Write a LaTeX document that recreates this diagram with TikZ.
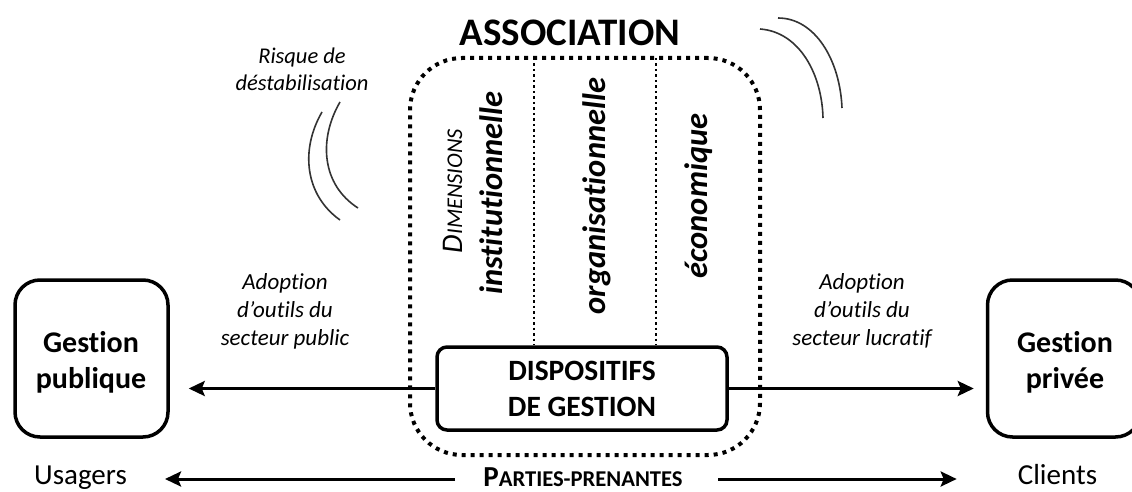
\documentclass[tikz,border=0pt]{standalone}
\usepackage{fontspec}
\setmainfont{Carlito}[Ligatures={NoCommon,NoRare,NoContextual}]
\usetikzlibrary{arrows.meta}
\begin{document}
\begin{tikzpicture}[x=1pt,y=-1pt,
  solidbox/.style={draw=black,line width=3.5pt,rounded corners=#1,inner sep=0pt},
  dotbox/.style={draw=black,line width=4pt,dash pattern=on 4pt off 5pt,rounded corners=52pt,inner sep=0pt,minimum width=350pt,minimum height=397pt},
  divider/.style={draw=black,line width=2.5pt,dash pattern=on 2.5pt off 3pt},
  arr/.style={draw=black,line width=3pt,-{Stealth[length=16pt,width=15pt,inset=3pt]}},
  wave/.style={draw=black!80,line width=1.6pt},
  lbl/.style={align=center,font=\fontsize{23}{28}\selectfont\itshape,inner sep=0pt},
  big/.style={font=\fontsize{30}{36}\selectfont\bfseries,align=center,inner sep=0pt},
  dim/.style={rotate=90,anchor=base,inner sep=0pt,font=\fontsize{32.5}{38}\selectfont\bfseries\itshape},
  plain/.style={anchor=base,inner sep=0pt,font=\fontsize{29}{34}\selectfont}
]
\useasboundingbox (0,0) rectangle (1132,492);

% title
\node[inner sep=0pt,font=\fontsize{39}{46}\selectfont\bfseries] (title) at (570,32.5) {ASSOCIATION};

% dotted association box
\node[dotbox] (assoc) at (585,256.5) {};

% dispositifs box
\node[solidbox=10pt,minimum width=290pt,minimum height=83pt,
      font=\fontsize{29.5}{36}\selectfont\bfseries,align=center] (disp) at (582,388.5) {DISPOSITIFS\\DE GESTION};

% dividers
\coordinate (d1) at (534,58);
\coordinate (d2) at (656,58);
\draw[divider] (d1) -- (d1 |- disp.north);
\draw[divider] (d2) -- (d2 |- disp.north);

% dimension texts
\node[rotate=90,anchor=base,inner sep=0pt,font=\fontsize{30}{36}\selectfont\itshape] (dimw) at (462,191)
  {D{\fontsize{22.5}{27}\selectfont IMENSIONS}};
\node[dim] (inst) at (502,193) {institutionnelle};
\node[dim] (orga) at (605,196) {organisationnelle};
\node[dim] (eco) at (707,196) {économique};

% side boxes
\node[solidbox=25pt,minimum width=153pt,minimum height=157pt] (pub) at (91.5,358.5) {};
\node[big] (pubt) at (91,362) {Gestion\\publique};
\node[solidbox=25pt,minimum width=153pt,minimum height=157pt] (priv) at (1064,358.5) {};
\node[big] (privt) at (1065,362) {Gestion\\privée};

% main arrows
\draw[arr,shorten >=19pt] (disp.west) -- (disp.west -| pub.east);
\draw[arr,shorten >=12pt] (disp.east) -- (disp.east -| priv.west);

% labels
\node[lbl] (adl) at (285,311) {Adoption\\d’outils du\\secteur public};
\node[lbl] (adr) at (862,311) {Adoption\\d’outils du\\secteur lucratif};
\node[lbl,font=\fontsize{22.5}{27}\selectfont\itshape] (risk) at (302,69) {Risque de\\déstabilisation};

% waves
\draw[wave] (322,112) .. controls (300,150) and (305,195) .. (340,220);
\draw[wave] (340,102) .. controls (318,140) and (322,185) .. (358,208);
\draw[wave] (760,29) .. controls (800,32) and (822,75) .. (823,118);
\draw[wave] (778,18) .. controls (815,18) and (840,60) .. (842,108);

% bottom row
\node[plain] (usag) at (80.5,484.5) {Usagers};
\node[plain] (cli) at (1057.5,484.5) {Clients};
\node[plain,font=\fontsize{29}{34}\selectfont\bfseries] (pp) at (583,486)
  {P{\fontsize{22.6}{27}\selectfont ARTIES-PRENANTES}};
\coordinate (ppl) at (455,479);
\coordinate (ppr) at (718,479);
\draw[arr,shorten >=38pt] (ppl) -- (ppl -| usag.east);
\draw[arr,shorten >=61pt] (ppr) -- (ppr -| cli.west);
\end{tikzpicture}
\end{document}
